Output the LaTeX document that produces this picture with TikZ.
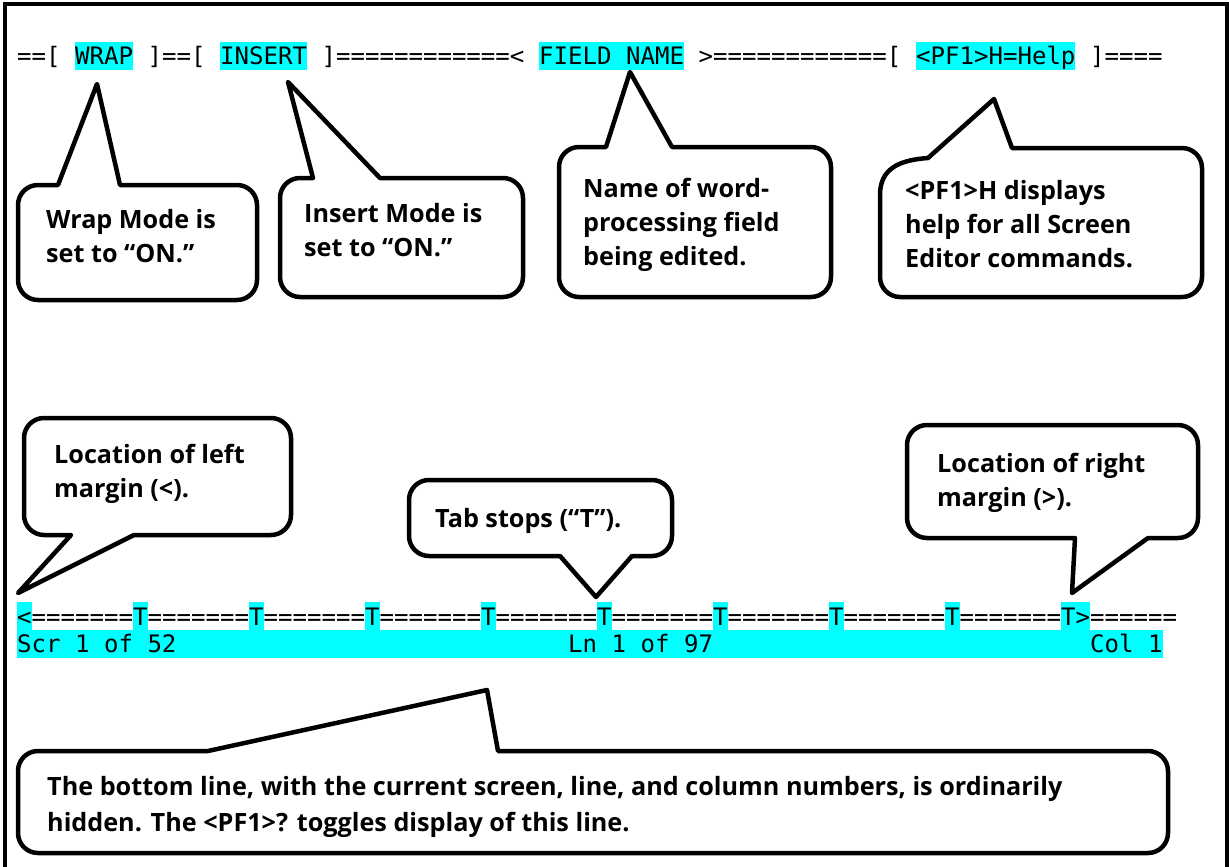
\documentclass[tikz,border=0pt]{standalone}
\usepackage{fontspec}
\newfontfamily\calloutfont{Open Sans}
\newfontfamily\screenfont{DejaVu Sans Mono}
\definecolor{hilite}{RGB}{0,255,255}
\begin{document}
\begin{tikzpicture}[x=1pt,y=-1pt,
    bubble/.style={draw,line width=4.5pt,fill=white,line join=round},
    note/.style={anchor=base west,inner sep=0pt,align=left,
        font=\calloutfont\bfseries\fontsize{25.2}{34}\selectfont},
    scr/.style={anchor=base west,inner sep=0pt,text height=22.7pt,text depth=5.4pt,
        font=\screenfont\fontsize{24.05}{28}\selectfont},
    hl/.style={scr,fill=hilite}]
\useasboundingbox (0,0) rectangle (1229,867);
\def\cw{14.5}
\def\ox{17}

\draw[line width=4pt] (4.5,870) -- (4.5,4) -- (1227,4) -- (1227,870);

\node[scr] (hdA) at ({\ox},65) {==[};
\node[hl]  (wrap) at ({\ox+4*\cw},65) {WRAP};
\node[scr] (hdB) at ({\ox+9*\cw},65) {]==[};
\node[hl]  (insert) at ({\ox+14*\cw},65) {INSERT};
\node[scr] (hdC) at ({\ox+21*\cw},65) {]============<};
\node[hl]  (field) at ({\ox+36*\cw},65) {FIELD NAME};
\node[scr] (hdD) at ({\ox+47*\cw},65) {>============[};
\node[hl]  (help) at ({\ox+62*\cw},65) {<PF1>H=Help};
\node[scr] (hdE) at ({\ox+74*\cw},65) {]====};

\node[hl] (lmargin) at ({\ox},625) {<};
\foreach \k in {0,...,8}
    \node[scr] (ruler\k) at ({\ox+(8*\k+1)*\cw},625) {=======};
\foreach \k in {1,...,8}
    \node[hl] (tab\k) at ({\ox+8*\k*\cw},625) {T};
\node[hl] (rmargin) at ({\ox+72*\cw},625) {T>};
\node[scr] (rulerend) at ({\ox+74*\cw},625) {======};

\fill[hilite] ({\ox},630) rectangle ({\ox+79*\cw},658.2);
\node[scr] (scr) at ({\ox},652.8) {Scr 1 of 52};
\node[scr] (ln) at ({\ox+38*\cw},652.8) {Ln 1 of 97};
\node[scr] (col) at ({\ox+74*\cw},652.8) {Col 1};

\draw[bubble] (120,185) [rounded corners=20pt] -- (257,185) -- (257,300) -- (18,300)
    -- (18,185) [sharp corners] -- (58,185) -- (97,84) -- cycle;
\node[note] (wraptxt) at (46,262) {Wrap Mode is\\set to “ON.”};

\draw[bubble] (380,178) [rounded corners=20pt] -- (523,178) -- (523,297) -- (280,297)
    -- (280,178) [sharp corners] -- (313,178) -- (288,82) -- cycle;
\node[note] (inserttxt) at (304,256) {Insert Mode is\\set to “ON.”};

\draw[bubble] (672,147) [rounded corners=20pt] -- (831,147) -- (831,297) -- (559,297)
    -- (559,147) [sharp corners] -- (606,147) -- (630,72) -- cycle;
\node[note] (fieldtxt) at (583,265) {Name of word-\\processing field\\being edited.};

\draw[bubble] (1012,148) [rounded corners=20pt] -- (1202,148) -- (1202,297) -- (880,297)
    [sharp corners] -- (880,195) .. controls (880,168) and (900,160) .. (928,158)
    -- (994,99) -- cycle;
\node[note] (helptxt) at (905,267) {<PF1>H displays\\help for all Screen\\Editor commands.};

\draw[bubble] (71,535) [rounded corners=20pt] -- (24,535) -- (24,418) -- (291,418)
    -- (291,535) [sharp corners] -- (134,535) -- (18,593) -- cycle;
\node[note] (lefttxt) at (54,497) {Location of left\\margin (<).};

\draw[bubble] (560,556) [rounded corners=20pt] -- (409,556) -- (409,480) -- (672,480)
    -- (672,556) [sharp corners] -- (632,556) -- (596,597) -- cycle;
\node[note] (tabtxt) at (435,527) {Tab stops (“T”).};

\draw[bubble] (1075,538) [rounded corners=20pt] -- (907,538) -- (907,425) -- (1198,425)
    -- (1198,538) [sharp corners] -- (1148,538) -- (1072,593) -- cycle;
\node[note] (righttxt) at (937,506) {Location of right\\margin (>).};

\draw[bubble] (498,751) [rounded corners=20pt] -- (1168,751) -- (1168,853) -- (18,853)
    -- (18,751) [sharp corners] -- (208,751) -- (487,690) -- cycle;
\node[note,font=\calloutfont\bfseries\fontsize{25.2}{36}\selectfont] (bottomtxt) at (47,831)
    {The bottom line, with the current screen, line, and column numbers, is ordinarily\\hidden. The <PF1>? toggles display of this line.};
\end{tikzpicture}
\end{document}
